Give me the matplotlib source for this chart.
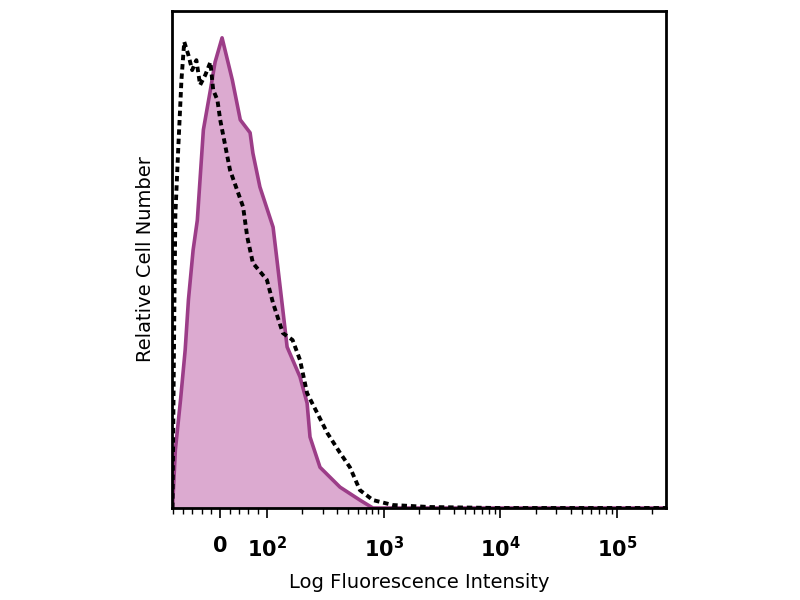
import matplotlib
matplotlib.use("Agg")
import matplotlib.pyplot as plt
import numpy as np
from matplotlib.ticker import FixedLocator, NullFormatter

# Histograma teñido (relleno rosa)
filled_x = [-106, -102, -96, -85, -75, -68, -58, -49, -36, -21, -11, 4, 26, 43, 64, 70, 85,
            113, 122, 137, 149, 192, 221, 234, 285, 423, 626, 809, 262000]
filled_y = [0, 0, 11.7, 21.7, 31.8, 41.9, 51.9, 57.9, 76.1, 84.1, 89.7, 94.6, 86.1, 78.1, 75.5,
            71.4, 64.6, 56.5, 49.9, 39.8, 32.4, 26.4, 21.1, 14.3, 8.2, 4.2, 1.6, 0, 0]

# Control de isotipo (linea discontinua)
ctrl_x = [-102, -100, -98, -96, -90, -83, -77, -68, -60, -51, -43, -32, -21, -15, -6,
          0, 21, 49, 58, 70, 100, 113, 137, 166, 192, 221, 270, 329, 423, 514, 626,
          809, 1199, 2483, 9800, 262000]
ctrl_y = [0, 21.7, 41.9, 59, 72, 86.1, 93.8, 91.1, 88.1, 90.1, 85.1, 87.1, 89.7, 84.1,
          82.1, 78.1, 68, 60.6, 54.5, 49.3, 45.9, 41.2, 35.2, 33.8, 29.8, 23.1, 19.1,
          15.1, 11.1, 8.2, 3.6, 1.6, 0.6, 0.2, 0, 0]

tick_vals = [0, 100, 1000, 10000, 100000]
tick_labels = [r"$\mathbf{0}$", r"$\mathbf{10^2}$", r"$\mathbf{10^3}$",
               r"$\mathbf{10^4}$", r"$\mathbf{10^5}$"]

fig = plt.figure(figsize=(8, 6), dpi=100)
ax = fig.add_axes([0.215, 0.1533, 0.6175, 0.8284])

ax.fill_between(filled_x, filled_y, 0, color="#dcaad0", linewidth=0)
ax.plot(filled_x, filled_y, color="#9c3d88", linewidth=2.6)
ax.plot(ctrl_x, ctrl_y, color="black", linewidth=2.8, linestyle=(0, (1.4, 1.0)))

ax.set_xscale("symlog", linthresh=100, linscale=0.36)
ax.set_xlim(-103, 262144)
ax.set_ylim(0, 100)

# Marcas del eje x
ax.xaxis.set_major_locator(FixedLocator(tick_vals))
ax.set_xticklabels(tick_labels, fontsize=15)
minors = list(range(-100, 100, 20))
for d in [100, 1000, 10000, 100000]:
    minors += [d * k for k in range(2, 10) if d * k < 262144]
ax.xaxis.set_minor_locator(FixedLocator(minors))
ax.xaxis.set_minor_formatter(NullFormatter())
ax.tick_params(axis="x", which="major", length=7, width=1.2, direction="out", pad=13)
ax.tick_params(axis="x", which="minor", length=4, width=1, direction="out")
ax.set_yticks([])

for s in ax.spines.values():
    s.set_linewidth(2)

ax.set_xlabel("Log Fluorescence Intensity", fontsize=14, labelpad=9)
ax.set_ylabel("Relative Cell Number", fontsize=14, labelpad=12)

fig.savefig("out.png", dpi=100)
